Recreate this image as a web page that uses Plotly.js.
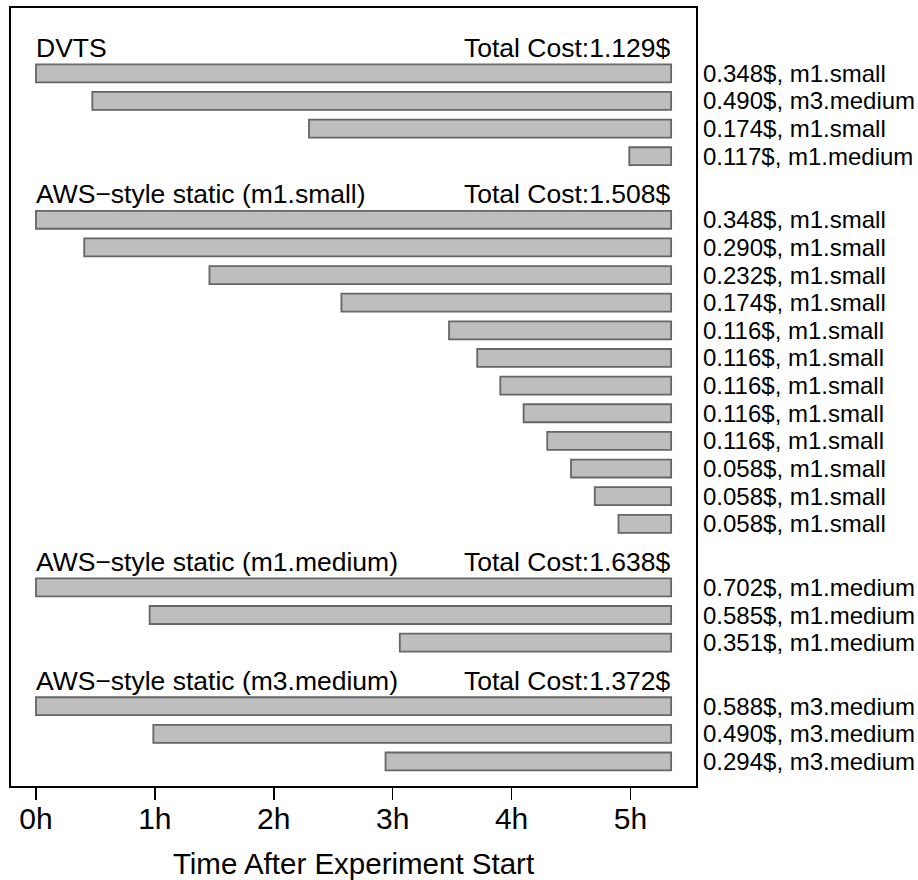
<!DOCTYPE html>
<html>
<head>
<meta charset="utf-8">
<script src="https://cdn.plot.ly/plotly-3.0.1.min.js"></script>
<style>
  html, body { margin: 0; padding: 0; background: #ffffff; }
  #chart { width: 918px; height: 880px; }
</style>
</head>
<body>
<div id="chart"></div>
<script>
// ---- data ----
const endTime = 5.342; // hours after experiment start when all instances stop

const groupNames = [
  "DVTS",
  "AWS\u2212style static (m1.small)",
  "AWS\u2212style static (m1.medium)",
  "AWS\u2212style static (m3.medium)"
];
const totalCosts = ["1.129", "1.508", "1.638", "1.372"];

const dvtsStart = [0, 0.474, 2.296, 4.99];
const dvtsCost  = ["0.348", "0.490", "0.174", "0.117"];
const dvtsType  = ["m1.small", "m3.medium", "m1.small", "m1.medium"];

const m1smallStart = [0, 0.406, 1.459, 2.569, 3.474, 3.711, 3.905, 4.101, 4.30, 4.50, 4.70, 4.899];
const m1smallCost  = ["0.348", "0.290", "0.232", "0.174", "0.116", "0.116", "0.116", "0.116", "0.116", "0.058", "0.058", "0.058"];
const m1smallType  = ["m1.small", "m1.small", "m1.small", "m1.small", "m1.small", "m1.small", "m1.small", "m1.small", "m1.small", "m1.small", "m1.small", "m1.small"];

const m1mediumStart = [0, 0.956, 3.06];
const m1mediumCost  = ["0.702", "0.585", "0.351"];
const m1mediumType  = ["m1.medium", "m1.medium", "m1.medium"];

const m3mediumStart = [0, 0.987, 2.94];
const m3mediumCost  = ["0.588", "0.490", "0.294"];
const m3mediumType  = ["m3.medium", "m3.medium", "m3.medium"];

const tickHours  = [0, 1, 2, 3, 4, 5];
const tickLabels = ["0h", "1h", "2h", "3h", "4h", "5h"];
const xTitle = "Time After Experiment Start";

// ---- build rows ----
const groups = [
  { start: dvtsStart,     cost: dvtsCost,     type: dvtsType },
  { start: m1smallStart,  cost: m1smallCost,  type: m1smallType },
  { start: m1mediumStart, cost: m1mediumCost, type: m1mediumType },
  { start: m3mediumStart, cost: m3mediumCost, type: m3mediumType }
];
const GROUP_GAP = 1.3;   // extra empty row space between groups
const HEADER_OFFSET = 0.93;

const FONT = "Liberation Sans, Arial, Helvetica, sans-serif";
const rowsY = [], bases = [], lengths = [];
const annotations = [];
let row = 0;
groups.forEach((g, gi) => {
  if (gi > 0) row += GROUP_GAP;
  const firstRow = row;
  annotations.push({
    xref: "x", yref: "y", x: 0, y: firstRow - HEADER_OFFSET,
    text: groupNames[gi], showarrow: false, xanchor: "left", yanchor: "middle",
    xshift: -2, font: { family: FONT, size: 26.5, color: "#000" }
  });
  annotations.push({
    xref: "x", yref: "y", x: endTime, y: firstRow - HEADER_OFFSET,
    text: "Total Cost:" + totalCosts[gi] + "$", showarrow: false, xanchor: "right", yanchor: "middle",
    xshift: 2, font: { family: FONT, size: 26.5, color: "#000" }
  });
  g.start.forEach((s, i) => {
    rowsY.push(row);
    bases.push(s);
    lengths.push(endTime - s);
    annotations.push({
      xref: "paper", yref: "y", x: 1, y: row,
      text: g.cost[i] + "$, " + g.type[i], showarrow: false, xanchor: "left", yanchor: "middle",
      xshift: 5, font: { family: FONT, size: 24, color: "#000" }
    });
    row += 1;
  });
});

const trace = {
  type: "bar",
  orientation: "h",
  y: rowsY,
  base: bases,
  x: lengths,
  width: 0.65,
  marker: { color: "#BEBEBE", line: { color: "#666666", width: 1.8 } },
  hoverinfo: "skip"
};

const layout = {
  width: 918,
  height: 880,
  margin: { l: 11, r: 222, t: 8, b: 94, pad: 0 },
  paper_bgcolor: "#ffffff",
  plot_bgcolor: "#ffffff",
  showlegend: false,
  font: { family: FONT, color: "#000" },
  xaxis: {
    range: [-0.210, 5.551],
    tickmode: "array",
    tickvals: tickHours,
    ticktext: tickLabels,
    ticks: "outside",
    ticklen: 12,
    tickwidth: 1.5,
    tickcolor: "#000",
    ticklabelstandoff: -7,
    tickfont: { family: FONT, size: 30, color: "#000" },
    showgrid: false,
    zeroline: false,
    showline: true,
    mirror: true,
    linecolor: "#000",
    linewidth: 2,
    title: { text: xTitle, font: { family: FONT, size: 29.5, color: "#000" }, standoff: 20 }
  },
  yaxis: {
    range: [25.787, -2.363],
    showticklabels: false,
    ticks: "",
    showgrid: false,
    zeroline: false,
    showline: true,
    mirror: true,
    linecolor: "#000",
    linewidth: 2
  },
  annotations: annotations
};

Plotly.newPlot("chart", [trace], layout, { staticPlot: true, displayModeBar: false });
</script>
</body>
</html>
